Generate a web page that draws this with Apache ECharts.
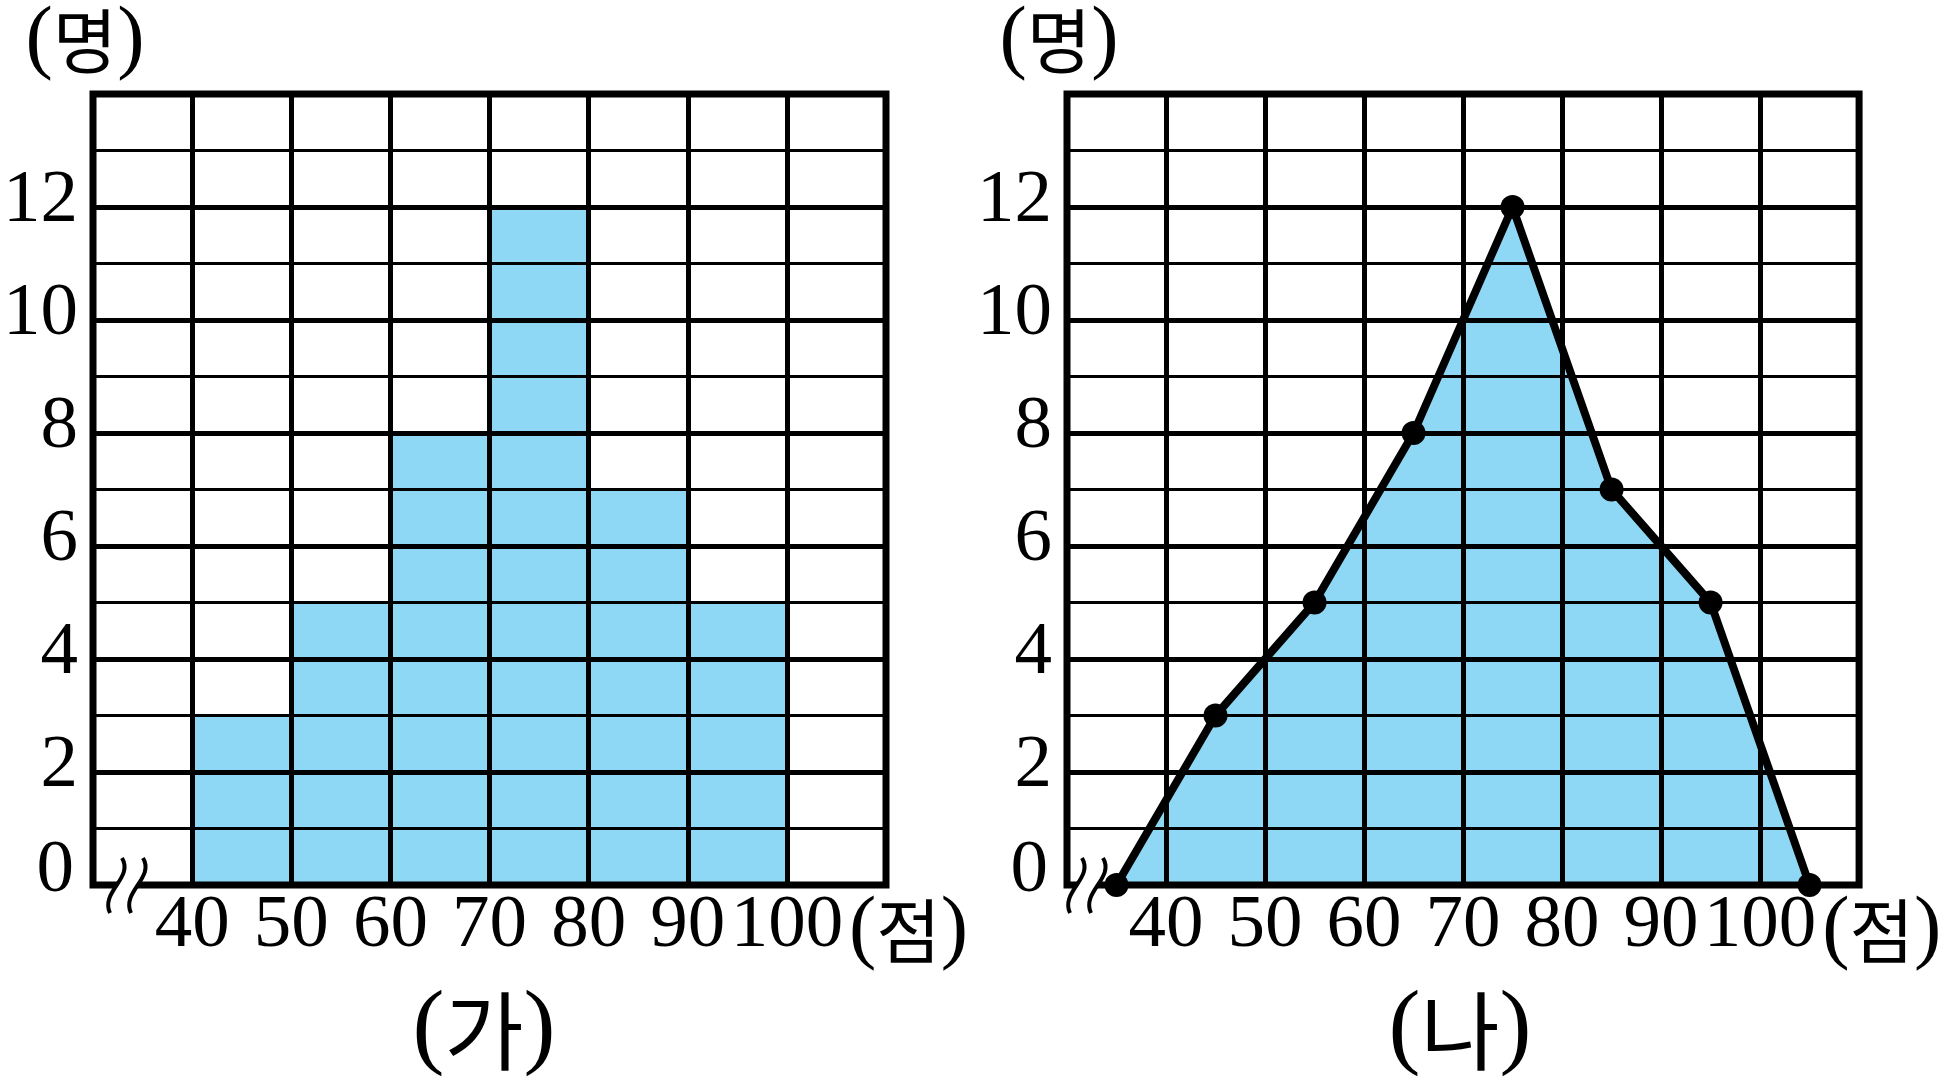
<!DOCTYPE html>
<html>
<head>
<meta charset="utf-8">
<script src="https://cdn.jsdelivr.net/npm/echarts@6/dist/echarts.min.js"></script>
<style>
html,body{margin:0;padding:0;background:#fff;}
#c{width:1944px;height:1084px;}
</style>
</head>
<body>
<div id="c"></div>
<script>
// ---- data ----
const classStarts = [40, 50, 60, 70, 80, 90];
const classEnds = [50, 60, 70, 80, 90, 100];
const counts = [3, 5, 8, 12, 7, 5];
const polyX = [35, 45, 55, 65, 75, 85, 95, 105];
const polyY = [0, 3, 5, 8, 12, 7, 5, 0];
const xTickLabels = [40, 50, 60, 70, 80, 90, 100];
const yTickLabels = [0, 2, 4, 6, 8, 10, 12];
const titles = ['(가)', '(나)'];

// ---- style ----
const BLUE = '#8ED8F5';
const SERIF = "'Liberation Serif', 'Noto Sans CJK KR', serif";
const CJK = "'Noto Sans CJK KR', sans-serif";
const G = [{left: 92, top: 92, width: 794, height: 793},
           {left: 1067, top: 92, width: 794, height: 793}];

const chart = echarts.init(document.getElementById('c'), null, {renderer: 'canvas'});

function xAxisOpt(i) {
  return {
    type: 'value', gridIndex: i, min: 30, max: 110, interval: 10, z: 3,
    axisLine: {show: false}, axisTick: {show: false},
    splitLine: {show: true, lineStyle: {color: '#000', width: 5}},
    axisLabel: {
      color: '#000', fontFamily: SERIF, fontSize: 75, margin: 4,
      formatter: v => xTickLabels.indexOf(v) >= 0 ? String(v) : ''
    },
    name: '{p|(}{h|점}{p|)}', nameLocation: 'end', nameGap: -41,
    nameTextStyle: {
      align: 'left', verticalAlign: 'middle', padding: [92, 0, 0, 0],
      rich: {
        p: {fontFamily: SERIF, fontSize: 82, color: '#000'},
        h: {fontFamily: CJK, fontSize: 70, color: '#000'}
      }
    }
  };
}
function yAxisOpt(i) {
  return {
    type: 'value', gridIndex: i, min: 0, max: 14, interval: 2, z: 3,
    axisLine: {show: false}, axisTick: {show: false},
    splitLine: {show: true, lineStyle: {color: '#000', width: 5}},
    minorTick: {show: false, splitNumber: 2},
    minorSplitLine: {show: true, lineStyle: {color: '#000', width: 3}},
    axisLabel: {
      color: '#000', fontFamily: SERIF, fontSize: 75, margin: 15,
      formatter: v => yTickLabels.indexOf(v) < 0 ? '' : (v === 0 ? '{z|0}' : '{n|' + v + '}'),
      rich: {
        n: {fontFamily: SERIF, fontSize: 75, color: '#000', padding: [0, 0, 12, 0]},
        z: {fontFamily: SERIF, fontSize: 75, color: '#000', padding: [0, 4, 28, 0]}
      }
    },
    name: '{p|(}{h|명}{p|)}', nameLocation: 'end', nameGap: 12,
    nameTextStyle: {
      padding: [0, 16, 0, 0],
      rich: {
        p: {fontFamily: SERIF, fontSize: 82, color: '#000'},
        h: {fontFamily: CJK, fontSize: 70, color: '#000'}
      }
    }
  };
}

const histData = classStarts.map((s, i) => [s, classEnds[i], counts[i]]);
const polyData = polyX.map((x, i) => [x, polyY[i]]);

function breakMark(x0) {
  // axis-break squiggle (decoration), x0 = top x of first stroke
  const y0 = 858, dy = 55;
  const path = (dx) => ({
    x1: x0 + dx, y1: y0, cpx1: x0 + dx + 12, cpy1: y0 + 20,
    cpx2: x0 + dx - 22, cpy2: y0 + 34, x2: x0 + dx - 12, y2: y0 + dy
  });
  return [
    {type: 'bezierCurve', z: 100, shape: path(10), style: {stroke: '#fff', lineWidth: 16, fill: null}},
    {type: 'bezierCurve', z: 101, shape: path(0), style: {stroke: '#000', lineWidth: 4, fill: null}},
    {type: 'bezierCurve', z: 101, shape: path(21), style: {stroke: '#000', lineWidth: 4, fill: null}}
  ];
}

const option = {
  backgroundColor: '#fff',
  animation: false,
  grid: G.map(g => Object.assign({}, g, {show: true, borderColor: '#000', borderWidth: 7, z: 4, backgroundColor: 'transparent'})),
  xAxis: [xAxisOpt(0), xAxisOpt(1)],
  yAxis: [yAxisOpt(0), yAxisOpt(1)],
  series: [
    {
      type: 'custom', xAxisIndex: 0, yAxisIndex: 0, z: 1,
      data: histData,
      encode: {x: [0, 1], y: 2},
      renderItem: (params, api) => {
        const p0 = api.coord([api.value(0), api.value(2)]);
        const p1 = api.coord([api.value(1), 0]);
        return {type: 'rect', shape: {x: p0[0], y: p0[1], width: p1[0] - p0[0], height: p1[1] - p0[1]},
                style: {fill: BLUE}};
      }
    },
    {
      type: 'line', xAxisIndex: 1, yAxisIndex: 1, z: 1,
      data: polyData, symbol: 'none',
      lineStyle: {width: 0}, areaStyle: {color: BLUE, opacity: 1}
    },
    {
      type: 'line', xAxisIndex: 1, yAxisIndex: 1, z: 10,
      data: polyData, symbol: 'circle', symbolSize: 24,
      lineStyle: {width: 8, color: '#000'}, itemStyle: {color: '#000'}
    }
  ],
  graphic: [
    ...breakMark(122),
    ...breakMark(1082),
    {type: 'text', z: 100, x: 484, y: 1031, style: {
      text: '{p|(}{h|' + titles[0].slice(1, -1) + '}{p|)}', align: 'center', verticalAlign: 'middle',
      rich: {p: {fontFamily: SERIF, fontSize: 96, fill: '#000'}, h: {fontFamily: CJK, fontSize: 86, fill: '#000'}}
    }},
    {type: 'text', z: 100, x: 1460, y: 1031, style: {
      text: '{p|(}{h|' + titles[1].slice(1, -1) + '}{p|)}', align: 'center', verticalAlign: 'middle',
      rich: {p: {fontFamily: SERIF, fontSize: 96, fill: '#000'}, h: {fontFamily: CJK, fontSize: 86, fill: '#000'}}
    }}
  ]
};
chart.setOption(option);
</script>
</body>
</html>
